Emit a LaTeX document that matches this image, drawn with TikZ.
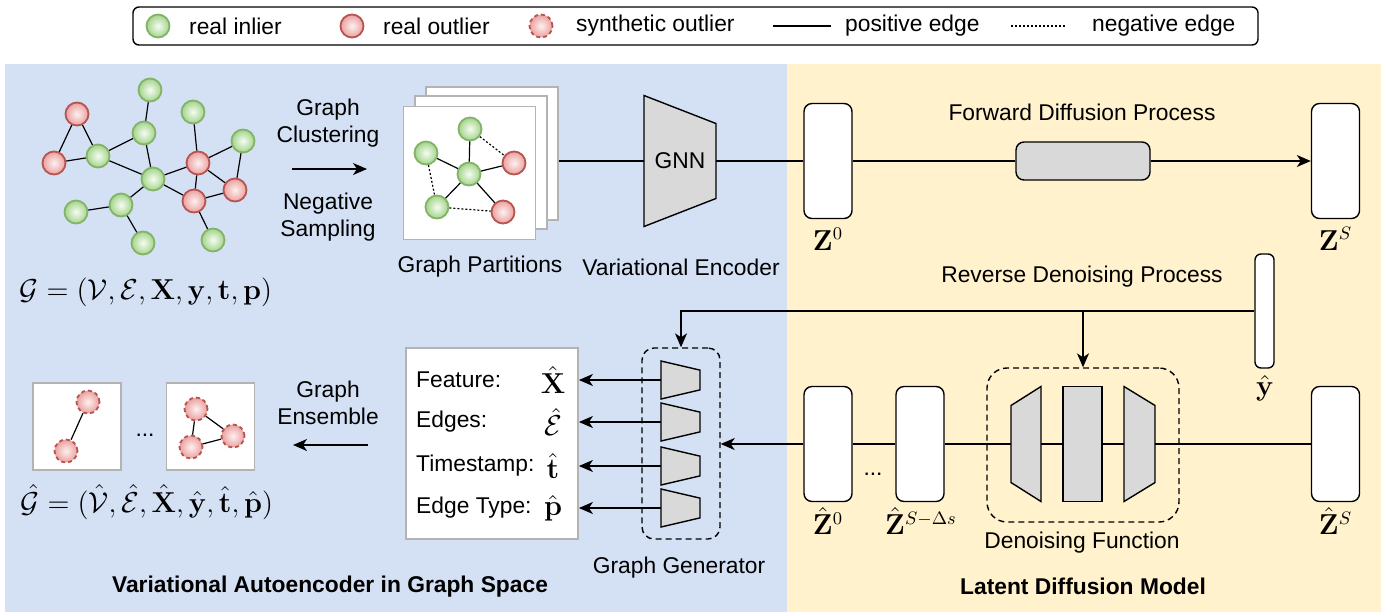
\documentclass[tikz,border=0pt]{standalone}
\usepackage[no-math]{fontspec}
\setmainfont{Liberation Sans}
\usetikzlibrary{arrows.meta,calc}

\definecolor{panelblue}{RGB}{212,225,245}
\definecolor{panelyellow}{RGB}{255,242,204}
\definecolor{inlierline}{RGB}{130,179,102}
\definecolor{inlierfill}{RGB}{163,212,138}
\definecolor{inliercore}{RGB}{246,252,243}
\definecolor{outlierline}{RGB}{184,84,80}
\definecolor{outlierfill}{RGB}{234,160,158}
\definecolor{outliercore}{RGB}{253,241,240}
\definecolor{shapegray}{RGB}{217,217,217}
\definecolor{pagegray}{RGB}{179,179,179}

\tikzset{every picture/.style={line width=0.7pt}}
\tikzset{
 txt/.style={font=\fontsize{11.4}{13.5}\selectfont, inner sep=0.75pt, align=center},
 boldtxt/.style={txt, font=\fontsize{11.4}{13.5}\selectfont\bfseries},
 mth/.style={font=\fontsize{13.4}{15}\selectfont, inner sep=0.75pt},
 inlier/.style={circle, minimum size=11.5pt, inner sep=0pt, draw=inlierline, line width=0.9pt, inner color=inliercore, outer color=inlierfill},
 outlier/.style={circle, minimum size=11.5pt, inner sep=0pt, draw=outlierline, line width=0.9pt, inner color=outliercore, outer color=outlierfill},
 synthetic/.style={outlier, dash pattern=on 2pt off 1.5pt},
 latent/.style={draw, fill=white, rounded corners=4pt, minimum width=24pt, minimum height=57.5pt, inner sep=0pt},
 page/.style={draw=pagegray, fill=white, line width=0.9pt, minimum width=66pt, minimum height=66.5pt, inner sep=0pt},
 frame/.style={inner sep=0pt, outer sep=0pt},
 group/.style={draw, dash pattern=on 3pt off 2pt, inner sep=0pt},
 link/.style={line width=0.6pt},
 nolink/.style={line width=0.6pt, dash pattern=on 1pt off 1pt},
 flow/.style={-{Stealth[length=7pt,width=6pt,inset=2pt]}},
}

\begin{document}
\begin{tikzpicture}[x=0.5pt,y=0.5pt,yscale=-1,xscale=1]
\useasboundingbox (0,0) rectangle (1385,612);

%Shape: Panels
\fill[panelblue] (5,64) rectangle (787,612);
\fill[panelyellow] (787,64) rectangle (1381,612);

%Shape: Legend
\node (legend) [draw, fill=white, rounded corners=3pt, minimum width=562.5pt, minimum height=19pt, inner sep=0pt] at (695.5,26) {};
\node (leginlier) [inlier] at (158,26) {};
\node (leginliertxt) [txt, anchor=west] at (187,26) {real inlier};
\node (legoutlier) [outlier] at (352,26) {};
\node (legoutliertxt) [txt, anchor=west] at (381,26) {real outlier};
\node (legsynth) [synthetic] at (541,26) {};
\node (legsynthtxt) [txt, anchor=west] at (574,26) {synthetic outlier};
\coordinate (posa) at (773,26);
\coordinate (posb) at (831,26);
\draw[link] (posa) -- (posb);
\node (legpostxt) [txt, anchor=west] at (843,26) {positive edge};
\coordinate (nega) at (1011,26);
\coordinate (negb) at (1067,26);
\draw[nolink] (nega) -- (negb);
\node (legnegtxt) [txt, anchor=west] at (1090,26) {negative edge};

%Shape: Input graph
\node (v1) [outlier] at (77,114) {};
\node (v2) [outlier] at (54,163) {};
\node (v3) [inlier] at (98,156) {};
\node (v4) [inlier] at (150,90) {};
\node (v5) [inlier] at (144,133) {};
\node (v6) [inlier] at (153,179) {};
\node (v7) [inlier] at (193,112) {};
\node (v8) [outlier] at (198,163) {};
\node (v9) [inlier] at (243,141) {};
\node (v10) [outlier] at (235,190) {};
\node (v11) [outlier] at (194,201) {};
\node (v12) [inlier] at (121,205) {};
\node (v13) [inlier] at (76,212) {};
\node (v14) [inlier] at (143,243) {};
\node (v15) [inlier] at (213,240) {};
\draw[link] (v1) -- (v2);
\draw[link] (v1) -- (v3);
\draw[link] (v2) -- (v3);
\draw[link] (v3) -- (v5);
\draw[link] (v4) -- (v5);
\draw[link] (v5) -- (v6);
\draw[link] (v3) -- (v6);
\draw[link] (v6) -- (v8);
\draw[link] (v6) -- (v11);
\draw[link] (v6) -- (v12);
\draw[link] (v12) -- (v13);
\draw[link] (v12) -- (v14);
\draw[link] (v7) -- (v8);
\draw[link] (v8) -- (v9);
\draw[link] (v8) -- (v10);
\draw[link] (v8) -- (v11);
\draw[link] (v9) -- (v10);
\draw[link] (v11) -- (v10);
\draw[link] (v11) -- (v15);

% Text Node
\node (graphtxt) [mth] at (146,292) {$\mathcal{G}=(\mathcal{V},\mathcal{E},\mathbf{X},\mathbf{y},\mathbf{t},\mathbf{p})$};

%Straight Lines: clustering
\node (clustertxt) [txt] at (328,123.5) {Graph\\Clustering};
\coordinate (clusta) at (292,169);
\coordinate (clustb) at (367,169);
\draw[flow] (clusta) -- (clustb);
\node (samplingtxt) [txt] at (328,217.5) {Negative\\Sampling};

%Shape: Partitions
\node (p3) [page] at (492,153.5) {};
\node (p2) [page] at (481,162.5) {};
\node (p1) [page] at (469.5,173) {};
\node (q1) [inlier] at (470,129) {};
\node (q2) [inlier] at (426,153) {};
\node (q3) [inlier] at (469,174) {};
\node (q4) [outlier] at (514,163) {};
\node (q5) [inlier] at (437,207) {};
\node (q6) [outlier] at (503,212) {};
\draw[link] (q1) -- (q3);
\draw[link] (q2) -- (q3);
\draw[link] (q3) -- (q4);
\draw[link] (q3) -- (q5);
\draw[link] (q3) -- (q6);
\draw[nolink] (q1) -- (q4);
\draw[nolink] (q2) -- (q5);
\draw[nolink] (q5) -- (q6);
\node (parttxt) [txt] at (480,267) {Graph Partitions};

%Shape: Encoder
\node (gnn) [frame, minimum width=36pt, minimum height=65.5pt] at (680,161) {};
\draw[fill=shapegray] (gnn.north west) -- ($(gnn.north east)!0.214!(gnn.south east)$) -- ($(gnn.north east)!0.786!(gnn.south east)$) -- (gnn.south west) -- cycle;
\node (gnntxt) [txt] at (gnn) {GNN};
\node (enctxt) [txt] at (681,267) {Variational Encoder};
\draw (p3.east |- gnn.west) -- (gnn.west);

%Shape: Forward diffusion
\node (z0) [latent] at (828,161) {};
\node (zS) [latent] at (1335.5,161) {};
\node (fwd) [draw, fill=shapegray, rounded corners=4pt, minimum width=67pt, minimum height=19pt, inner sep=0pt] at (1083,161) {};
\draw (gnn.east) -- (z0.west);
\draw (z0.east) -- (fwd.west);
\draw[flow] (fwd.east) -- (zS.west);
\node (z0txt) [mth] at (828,239) {$\mathbf{Z}^{0}$};
\node (zStxt) [mth] at (1335.5,239) {$\mathbf{Z}^{S}$};
\node (fwdtxt) [txt] at (1082,112) {Forward Diffusion Process};
\node (revtxt) [txt] at (1082,277) {Reverse Denoising Process};

%Shape: Condition
\node (yhat) [latent, rounded corners=3pt, minimum width=9.5pt, minimum height=57pt] at (1264.5,311) {};
\node (yhattxt) [mth] at (1265,388) {$\hat{\mathbf{y}}$};

%Shape: Reverse denoising
\node (zh0) [latent] at (828,444) {};
\node (zhmid) [latent] at (920,444) {};
\node (zhS) [latent] at (1335.5,444) {};
\node (zhdots) [txt] at (873,474) {...};
\node (zh0txt) [mth] at (828,521) {$\hat{\mathbf{Z}}^{0}$};
\node (zhmidtxt) [mth] at (921,521) {$\hat{\mathbf{Z}}^{S-\Delta s}$};
\node (zhStxt) [mth] at (1335.5,521) {$\hat{\mathbf{Z}}^{S}$};

\node (den) [group, rounded corners=10pt, minimum width=96pt, minimum height=77pt] at (1083,445) {};
\node (enc) [frame, minimum width=15pt, minimum height=57.5pt] at (1026,444) {};
\draw[fill=shapegray] (enc.north east) -- (enc.south east) -- ($(enc.north west)!0.835!(enc.south west)$) -- ($(enc.north west)!0.165!(enc.south west)$) -- cycle;
\node (mid) [draw, fill=shapegray, minimum width=19.5pt, minimum height=57.5pt, inner sep=0pt] at (1082.5,444) {};
\node (dec) [frame, minimum width=15.5pt, minimum height=57.5pt] at (1139.5,444) {};
\draw[fill=shapegray] (dec.north west) -- ($(dec.north east)!0.165!(dec.south east)$) -- ($(dec.north east)!0.835!(dec.south east)$) -- (dec.south west) -- cycle;
\node (dentxt) [txt] at (1082,543) {Denoising Function};
\draw (zhS.west) -- (dec.east);
\draw (dec.west) -- (mid.east);
\draw (mid.west) -- (enc.east);
\draw (enc.west) -- (zhmid.east);
\draw (zhmid.west) -- (zh0.east);
\node (ldmtxt) [boldtxt] at (1083,586) {Latent Diffusion Model};

%Shape: Generator
\node (gen) [group, rounded corners=6pt, minimum width=39pt, minimum height=95.5pt] at (681,443.5) {};
\node (out) [draw=pagegray, fill=white, line width=0.9pt, minimum width=86pt, minimum height=95.5pt, inner sep=0pt] at (492,443.5) {};
\node (h1) [frame, minimum width=19.5pt, minimum height=19pt] at (680.5,380) {};
\draw[fill=shapegray] (h1.north west) -- ($(h1.north east)!0.24!(h1.south east)$) -- ($(h1.north east)!0.76!(h1.south east)$) -- (h1.south west) -- cycle;
\node (h2) [frame, minimum width=19.5pt, minimum height=19pt] at (680.5,422) {};
\draw[fill=shapegray] (h2.north west) -- ($(h2.north east)!0.24!(h2.south east)$) -- ($(h2.north east)!0.76!(h2.south east)$) -- (h2.south west) -- cycle;
\node (h3) [frame, minimum width=19.5pt, minimum height=19pt] at (680.5,466) {};
\draw[fill=shapegray] (h3.north west) -- ($(h3.north east)!0.24!(h3.south east)$) -- ($(h3.north east)!0.76!(h3.south east)$) -- (h3.south west) -- cycle;
\node (h4) [frame, minimum width=19.5pt, minimum height=19pt] at (680.5,508) {};
\draw[fill=shapegray] (h4.north west) -- ($(h4.north east)!0.24!(h4.south east)$) -- ($(h4.north east)!0.76!(h4.south east)$) -- (h4.south west) -- cycle;
\draw[flow] (h1.west) -- (h1.west -| out.east);
\draw[flow] (h2.west) -- (h2.west -| out.east);
\draw[flow] (h3.west) -- (h3.west -| out.east);
\draw[flow] (h4.west) -- (h4.west -| out.east);
\node (feattxt) [txt, anchor=west] at (414,380) {Feature:};
\node (edgetxt) [txt, anchor=west] at (414,422) {Edges:};
\node (timetxt) [txt, anchor=west] at (414,466) {Timestamp:};
\node (typetxt) [txt, anchor=west] at (414,508) {Edge Type:};
\node (featmth) [mth] at (553,380) {$\hat{\mathbf{X}}$};
\node (edgemth) [mth] at (553,422) {$\hat{\mathcal{E}}$};
\node (timemth) [mth] at (553,466) {$\hat{\mathbf{t}}$};
\node (typemth) [mth] at (553,508) {$\hat{\mathbf{p}}$};
\node (gentxt) [txt] at (679,568) {Graph Generator};
\draw[flow] (zh0.west) -- (zh0.west -| gen.east);
\draw[flow] (yhat.west) -- (gen.north |- yhat.west) -- (gen.north);
\draw[flow] (den.north |- yhat.west) -- (den.north);

%Shape: Synthetic graphs
\node (b1) [page, minimum width=44pt, minimum height=43.5pt] at (77,426.5) {};
\node (b2) [page, minimum width=44pt, minimum height=43.5pt] at (210.5,426.5) {};
\node (s1) [synthetic] at (88,402) {};
\node (s2) [synthetic] at (66,451) {};
\node (s3) [synthetic] at (196,409) {};
\node (s4) [synthetic] at (233,436) {};
\node (s5) [synthetic] at (191,447) {};
\draw[link] (s1) -- (s2);
\draw[link] (s3) -- (s4);
\draw[link] (s4) -- (s5);
\draw[link] (s3) -- (s5);
\node (bdots) [txt] at (145,435) {...};
\node (enstxt) [txt] at (328,402.5) {Graph\\Ensemble};
\coordinate (ensa) at (368,445);
\coordinate (ensb) at (293,445);
\draw[flow] (ensa) -- (ensb);
\node (synthtxt) [mth] at (147,502) {$\hat{\mathcal{G}}=(\hat{\mathcal{V}},\hat{\mathcal{E}},\hat{\mathbf{X}},\hat{\mathbf{y}},\hat{\mathbf{t}},\hat{\mathbf{p}})$};
\node (vaetxt) [boldtxt] at (330,587) {Variational Autoencoder in Graph Space};

\end{tikzpicture}
\end{document}
